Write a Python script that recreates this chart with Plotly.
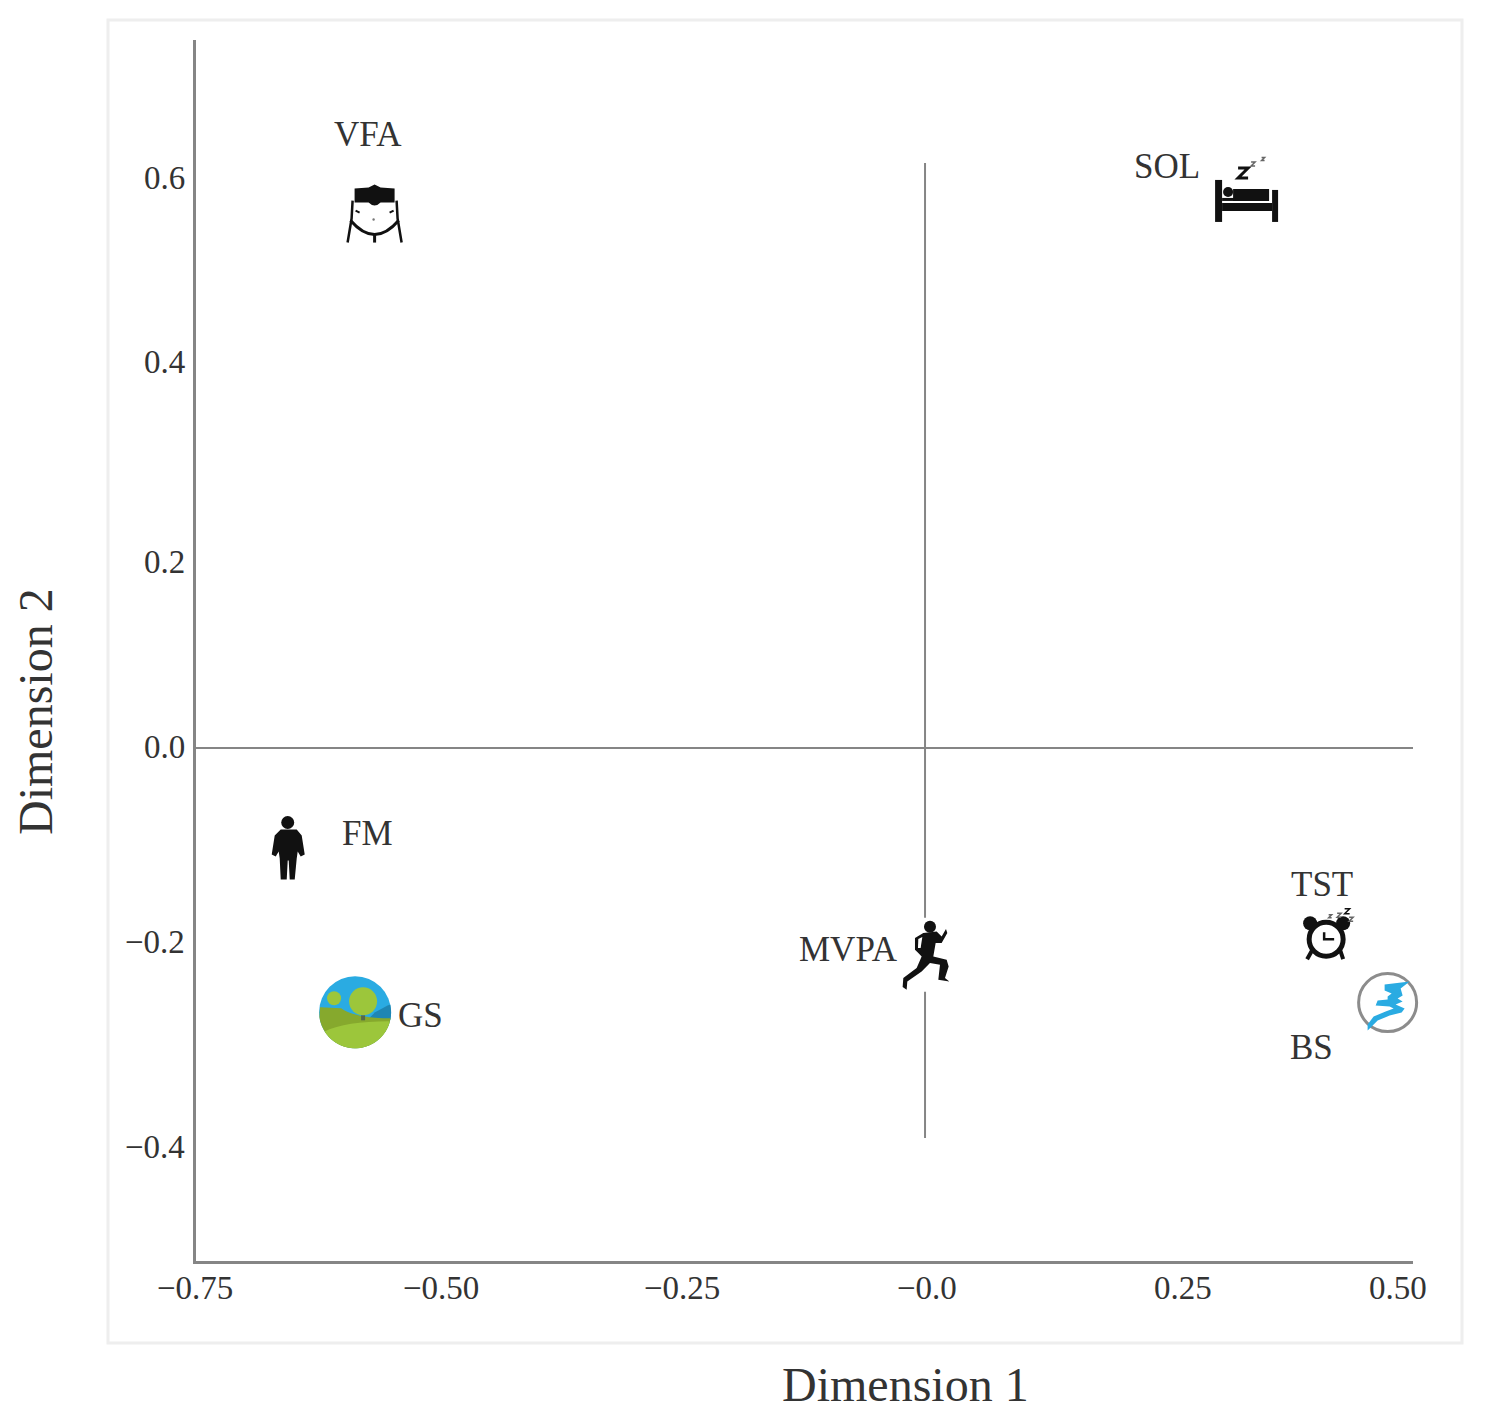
#!/usr/bin/env python3
"""Two-dimensional map of sleep, activity and body-composition variables."""

import numpy as np
import plotly.graph_objects as go

# ---- data
VARIABLES = ["VFA", "SOL", "FM", "GS", "MVPA", "TST", "BS"]
DIM_1 = [-0.564, 0.330, -0.652, -0.584, 0.002, 0.411, 0.474]
DIM_2 = [0.547, 0.562, -0.103, -0.271, -0.212, -0.195, -0.261]

X_TICKS = [-0.75, -0.50, -0.25, 0.0, 0.25, 0.50]
X_TICK_LABELS = ["−0.75", "−0.50", "−0.25", "−0.0", "0.25", "0.50"]
Y_TICKS = [0.6, 0.4, 0.2, 0.0, -0.2, -0.4]
Y_TICK_LABELS = ["0.6", "0.4", "0.2", "0.0", "−0.2", "−0.4"]

REF_H_X = [-0.747, 0.50]
REF_H_Y = [0.0, 0.0]
REF_V_X = [0.0, 0.0]
REF_V_Y = [-0.40, 0.60]

# ---- layout, in page pixels
WIDTH, HEIGHT = 1488, 1426
LEFT, RIGHT, TOP, BOTTOM = 196, 1413, 40, 1261
X_RANGE = [-0.747, 0.50]
Y_RANGE = [-0.526, 0.726]

# the labels in the source sit a little away from their true positions
X_TICK_SHIFT = [2, 4, 1, 2, 14, -15]
Y_TICK_SHIFT = [-15, -4, -9, 1, 1, -9]
LABEL_SHIFT = {
    "VFA": (-7, 80), "SOL": (-80, 33), "FM": (79, 15), "GS": (65, -3),
    "MVPA": (-78, 5), "TST": (-4, 54), "BS": (-76, -45),
}

FONT = "Liberation Serif"
INK = "#333333"
AXIS_GRAY = "#858585"
BLACK = "#111111"
SOFT = "#666666"
SKY = "#2AABE2"
GRASS = "#9CC63B"
HILL = "#86A92D"
LAKE = "#1F86B3"


def px_x(px):
    return (px - LEFT) / (RIGHT - LEFT)


def px_y(py):
    return (BOTTOM - py) / (BOTTOM - TOP)


def paper_x(val):
    return (val - X_RANGE[0]) / (X_RANGE[1] - X_RANGE[0])


def paper_y(val):
    return (val - Y_RANGE[0]) / (Y_RANGE[1] - Y_RANGE[0])


def flip(path, ox=0, oy=0, scale=1.0):
    """Turn a y-down path into the y-up pixel path plotly wants."""
    out, is_x = [], True
    for tok in path.split():
        if tok.isalpha():
            out.append(tok)
            is_x = True
        elif is_x:
            out.append(f"{(float(tok) - ox) * scale:.2f}")
            is_x = False
        else:
            out.append(f"{-(float(tok) - oy) * scale:.2f}")
            is_x = True
    return " ".join(out)


def arc(r, a0, a1, n=24):
    """Points on a circle, angles in degrees, y-down, as path text."""
    ang = np.radians(np.linspace(a0, a1, n))
    return " ".join(f"L {r * np.cos(a):.2f} {r * np.sin(a):.2f}" for a in ang)


def anchored(var):
    # paper refs because the BS ring pokes out past the end of the axis
    idx = VARIABLES.index(var)
    return dict(
        xref="paper", yref="paper", xsizemode="pixel", ysizemode="pixel",
        xanchor=paper_x(DIM_1[idx]), yanchor=paper_y(DIM_2[idx]),
    )


def blob(var, path, fill=BLACK, line=None, width=0):
    return dict(type="path", path=path, fillcolor=fill,
                line=dict(color=line or fill, width=width), **anchored(var))


def disc(var, cx, cy, r, fill=BLACK, line=None, width=0):
    return dict(type="circle", x0=cx - r, x1=cx + r, y0=-cy - r, y1=-cy + r, fillcolor=fill,
                line=dict(color=line or fill, width=width), **anchored(var))


def stroke(var, path, color=BLACK, width=2):
    return dict(type="path", path=path, line=dict(color=color, width=width), **anchored(var))


def letter_z(var, cx, cy, s, width=2, color=BLACK):
    return stroke(var, flip(
        f"M {cx - s} {cy - s} L {cx + s} {cy - s} L {cx - s} {cy + s} L {cx + s} {cy + s}"
    ), color=color, width=width)


def icon_shapes():
    shapes = []

    # FM: standing person
    shapes.append(disc("FM", -1, -26, 6.5))
    shapes.append(blob("FM", flip(
        "M -8 -19 L 8 -19 L 13 -13 L 16 6 L 12 8 L 9 3 L 8 10 L 6 31 L 1 31 L 0 12 "
        "L -1 12 L -2 31 L -8 31 L -9 10 L -10 3 L -13 8 L -17 6 L -14 -13 Z"
    )))

    # GS: park in a round badge
    shapes.append(disc("GS", 0, 0, 36, fill=SKY))
    shapes.append(blob("GS", flip(f"M 14 6 L 20 0 L 33 -7 {arc(36, -12, 12, 8)} Z"), fill=LAKE))
    shapes.append(blob("GS", flip(f"M -35 -5 L -14 -4 Q 0 6 36 6 {arc(36, 10, 172)} Z"), fill=HILL))
    shapes.append(blob("GS", flip(f"M -30 19 Q -10 9 34 9 {arc(36, 16, 148)} Z"), fill=GRASS))
    shapes.append(disc("GS", 8, -11, 14, fill=GRASS))
    shapes.append(disc("GS", -21, -14, 7, fill=GRASS))
    shapes.append(blob("GS", flip("M 6 3 L 10 3 L 10 8 L 6 8 Z"), fill="#55684A"))

    # BS: scribble in a ring
    shapes.append(disc("BS", 0, 0, 29, fill="white", line="#8C8C8C", width=3))
    shapes.append(blob("BS", flip(
        "M -3 -18 L 22 -21 L 13 -14 L 15 -7 L 10 -4 L 15 -1 L 8 2 L 17 6 L 14 10 L 2 13 "
        "L -10 18 L -20 28 L -20 22 L -14 14 L -2 9 L 6 6 L 2 4 L -12 3 L -10 -2 L 0 -3 "
        "L 0 -6 L 4 -9 L -3 -12 Z"
    ), fill=SKY))

    # TST: alarm clock with zzz
    shapes.append(stroke("TST", flip("M -14 12 L -19 21"), width=4))
    shapes.append(stroke("TST", flip("M 14 12 L 17 21"), width=4))
    shapes.append(disc("TST", -16, -15, 7))
    shapes.append(disc("TST", 17, -15, 7))
    shapes.append(disc("TST", 0, 1, 17, fill="white", line=BLACK, width=5))
    shapes.append(stroke("TST", flip("M -2 -6 L -2 1 L 8 1"), width=2.5))
    shapes.append(letter_z("TST", 4, -22, 1.5, 1.5, SOFT))
    shapes.append(letter_z("TST", 13, -23, 2, 1.5, SOFT))
    shapes.append(letter_z("TST", 21, -27, 2.5, 1.5))
    shapes.append(letter_z("TST", 25, -19, 2, 1.5, SOFT))

    # SOL: bed with sleeper
    shapes.append(blob("SOL", flip("M -32 -20 L -25 -20 L -25 22 L -32 22 Z")))
    shapes.append(blob("SOL", flip("M 25 -10 L 31 -10 L 31 22 L 25 22 Z")))
    shapes.append(blob("SOL", flip("M -25 3 L 25 3 L 25 11 L -25 11 Z")))
    shapes.append(blob("SOL", flip("M -14 -11 L 22 -11 L 22 1 L -14 1 Z")))
    shapes.append(blob("SOL", flip("M -25 -2 L -12 -2 L -12 1 L -25 1 Z")))
    shapes.append(disc("SOL", -19, -8, 5))
    shapes.append(letter_z("SOL", -4, -27, 5, 3))
    shapes.append(letter_z("SOL", 6, -36, 2, 1.5, SOFT))
    shapes.append(letter_z("SOL", 16, -41, 1.5, 1.5, SOFT))

    # VFA: torso with band round the waist
    shapes.append(blob("VFA", flip("M -20 -26 L -6 -27 L 0 -30 L 6 -27 L 20 -26 L 20 -12 L 6 -12 Q 0 -6 -6 -12 L -20 -12 Z")))
    shapes.append(stroke("VFA", flip("M -22 -14 L -23 4 L -27 28"), width=2.5))
    shapes.append(stroke("VFA", flip("M 22 -14 L 23 4 L 27 28"), width=2.5))
    shapes.append(stroke("VFA", flip("M -24 6 Q -12 20 0 20 Q 12 20 24 6"), width=3))
    shapes.append(stroke("VFA", flip("M 0 20 L 0 28"), width=3))
    shapes.append(stroke("VFA", flip("M -19 -4 L -15 -2 M 19 -4 L 15 -2"), width=2))
    shapes.append(disc("VFA", -1, 5, 1.2, fill="#777777"))

    # MVPA: runner, traced at three times size, on a white patch that breaks the axis
    shapes.append(blob("MVPA", flip("M -12 -37 L 12 -37 L 12 37 L -12 37 Z"), fill="white"))
    shapes.append(disc("MVPA", 3, -28, 6))
    shapes.append(blob("MVPA", flip(
        "M 400 100 L 440 95 L 455 110 L 468 88 L 472 100 L 455 130 L 437 130 L 430 170 "
        "L 470 180 L 476 200 L 465 235 L 478 245 L 445 240 L 450 195 L 420 190 L 395 215 "
        "L 352 245 L 350 270 L 338 262 L 340 235 L 380 205 L 395 170 L 385 160 L 375 150 "
        "L 375 115 Z", 411, 165, 1 / 3)))
    shapes.append(blob("MVPA", flip("M 385 118 L 397 112 L 392 145 L 384 145 Z", 411, 165, 1 / 3), fill="white"))
    return shapes


fig = go.Figure()

fig.add_trace(go.Scatter(x=REF_H_X, y=REF_H_Y, mode="lines", hoverinfo="skip",
                         line=dict(color=AXIS_GRAY, width=2), showlegend=False))
fig.add_trace(go.Scatter(x=REF_V_X, y=REF_V_Y, mode="lines", hoverinfo="skip",
                         line=dict(color=AXIS_GRAY, width=2), showlegend=False))
# the points themselves are pictograms, drawn as shapes anchored to the same values
fig.add_trace(go.Scatter(
    x=DIM_1, y=DIM_2, mode="markers", text=VARIABLES, showlegend=False,
    marker=dict(size=40, color="rgba(0,0,0,0)"),
    hovertemplate="<b>%{text}</b><br>Dimension 1 = %{x:.2f}<br>Dimension 2 = %{y:.2f}<extra></extra>",
))

annotations = []
for var, x, y in zip(VARIABLES, DIM_1, DIM_2):
    dx, dy = LABEL_SHIFT[var]
    annotations.append(dict(
        x=x, y=y, text=var, showarrow=False, xanchor="center", yanchor="middle",
        xshift=dx, yshift=dy, font=dict(family=FONT, size=35, color=INK),
    ))
for val, label, shift in zip(X_TICKS, X_TICK_LABELS, X_TICK_SHIFT):
    annotations.append(dict(
        x=paper_x(val), xref="paper", y=px_y(1288), yref="paper", text=label, showarrow=False,
        xanchor="center", yanchor="middle", xshift=shift,
        font=dict(family=FONT, size=33, color=INK),
    ))
for val, label, shift in zip(Y_TICKS, Y_TICK_LABELS, Y_TICK_SHIFT):
    annotations.append(dict(
        x=px_x(187), xref="paper", y=val, yref="y", text=label, showarrow=False,
        xanchor="right", yanchor="middle", yshift=shift,
        font=dict(family=FONT, size=33, color=INK),
    ))
annotations.append(dict(
    x=px_x(905), xref="paper", y=px_y(1384), yref="paper", text="Dimension 1", showarrow=False,
    xanchor="center", yanchor="middle", font=dict(family=FONT, size=48, color=INK),
))
annotations.append(dict(
    x=px_x(35), xref="paper", y=px_y(712), yref="paper", text="Dimension 2", showarrow=False,
    xanchor="center", yanchor="middle", textangle=-90, font=dict(family=FONT, size=48, color=INK),
))

frame = dict(
    type="rect", xref="paper", yref="paper", layer="below",
    x0=px_x(108), x1=px_x(1462), y0=px_y(1343), y1=px_y(20),
    line=dict(color="#EEEEEE", width=3), fillcolor="white",
)

fig.update_layout(
    width=WIDTH,
    height=HEIGHT,
    margin=dict(l=LEFT, r=WIDTH - RIGHT, t=TOP, b=HEIGHT - BOTTOM),
    plot_bgcolor="rgba(0,0,0,0)",
    paper_bgcolor="white",
    showlegend=False,
    shapes=[frame] + icon_shapes(),
    annotations=annotations,
)
fig.update_xaxes(range=X_RANGE, showgrid=False, zeroline=False, showticklabels=False, ticks="",
                 showline=True, linecolor=AXIS_GRAY, linewidth=3)
fig.update_yaxes(range=Y_RANGE, showgrid=False, zeroline=False, showticklabels=False, ticks="",
                 showline=True, linecolor=AXIS_GRAY, linewidth=3)

fig.write_html("out.html", config={"displayModeBar": False},
               post_script="document.body.style.margin = '0';")
